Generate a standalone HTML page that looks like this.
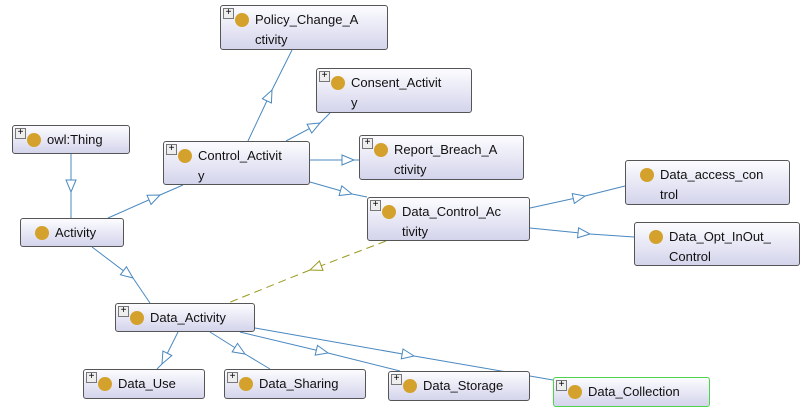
<!DOCTYPE html>
<html><head><meta charset="utf-8"><style>
body{margin:0;width:812px;height:418px;background:#fff;overflow:hidden;position:relative;font-family:"Liberation Sans",sans-serif}
.n{position:absolute;box-sizing:border-box;border:1px solid #555;border-radius:3px;background:linear-gradient(#fcfcff,#d4d4ec);font-size:13px;color:#111;line-height:20px}
.n .c{position:absolute;left:14px;top:7px;width:14px;height:14px;border-radius:50%;background:#d4a22c}
.n .p{position:absolute;left:2px;top:2px;width:9px;height:9px;border:1px solid #777;background:#eee;font-size:10px;line-height:8px;text-align:center;color:#000}
.n .t{position:absolute;left:34px;top:4px}
svg{position:absolute;left:0;top:0}
</style></head><body>
<svg width="812" height="418">
<defs>
<marker id="a" viewBox="0 0 14 12" refX="13" refY="6" markerWidth="14" markerHeight="12" markerUnits="userSpaceOnUse" orient="auto"><path d="M1,1 L13,6 L1,11 Z" fill="#fff" stroke="#4a88c0"/></marker>
<marker id="b" viewBox="0 0 14 12" refX="13" refY="6" markerWidth="14" markerHeight="12" markerUnits="userSpaceOnUse" orient="auto"><path d="M1,1 L13,6 L1,11 Z" fill="#fff" stroke="#9a9a20"/></marker>
</defs>
<g stroke="#4a88c0" stroke-width="1" fill="none">
<path d="M71,154 L71,192" marker-end="url(#a)"/><path d="M71,192 L71,218"/>
<path d="M108,218 L160,195" marker-end="url(#a)"/><path d="M160,195 L183,185"/>
<path d="M248,141 L272,90" marker-end="url(#a)"/><path d="M272,90 L292,50"/>
<path d="M286,141 L320,123" marker-end="url(#a)"/><path d="M320,123 L330,113"/>
<path d="M310,160 L354,160" marker-end="url(#a)"/><path d="M354,160 L359,160"/>
<path d="M310,182 L352,194" marker-end="url(#a)"/><path d="M352,194 L367,197"/>
<path d="M530,208 L585,196" marker-end="url(#a)"/><path d="M585,196 L625,186"/>
<path d="M530,228 L590,234" marker-end="url(#a)"/><path d="M590,234 L634,237"/>
<path d="M92,247 L133,278" marker-end="url(#a)"/><path d="M133,278 L150,303"/>
<path d="M178,332 L162,364" marker-end="url(#a)"/><path d="M162,364 L157,369"/>
<path d="M210,332 L245,354" marker-end="url(#a)"/><path d="M245,354 L270,369"/>
<path d="M240,332 L328,353" marker-end="url(#a)"/><path d="M328,353 L400,371"/>
<path d="M255,328 L414,356" marker-end="url(#a)"/><path d="M414,356 L553,380"/>
</g>
<g stroke="#9a9a20" fill="none" stroke-dasharray="8,5">
<path d="M386,241 L310,270" marker-end="url(#b)"/><path d="M310,270 L228,303"/>
</g>
</svg>
<div class="n" style="left:220px;top:5px;width:168px;height:45px"><span class="p">+</span><span class="c"></span><span class="t">Policy_Change_A<br>ctivity</span></div>
<div class="n" style="left:316px;top:68px;width:156px;height:45px"><span class="p">+</span><span class="c"></span><span class="t">Consent_Activit<br>y</span></div>
<div class="n" style="left:12px;top:125px;width:118px;height:29px"><span class="p">+</span><span class="c"></span><span class="t">owl:Thing</span></div>
<div class="n" style="left:163px;top:141px;width:147px;height:44px"><span class="p">+</span><span class="c"></span><span class="t">Control_Activit<br>y</span></div>
<div class="n" style="left:359px;top:135px;width:165px;height:45px"><span class="p">+</span><span class="c"></span><span class="t">Report_Breach_A<br>ctivity</span></div>
<div class="n" style="left:625px;top:160px;width:165px;height:45px"><span class="c"></span><span class="t">Data_access_con<br>trol</span></div>
<div class="n" style="left:367px;top:197px;width:163px;height:44px"><span class="p">+</span><span class="c"></span><span class="t">Data_Control_Ac<br>tivity</span></div>
<div class="n" style="left:20px;top:218px;width:104px;height:29px"><span class="c"></span><span class="t">Activity</span></div>
<div class="n" style="left:634px;top:222px;width:166px;height:44px"><span class="c"></span><span class="t">Data_Opt_InOut_<br>Control</span></div>
<div class="n" style="left:115px;top:303px;width:140px;height:29px"><span class="p">+</span><span class="c"></span><span class="t">Data_Activity</span></div>
<div class="n" style="left:83px;top:369px;width:122px;height:30px"><span class="p">+</span><span class="c"></span><span class="t">Data_Use</span></div>
<div class="n" style="left:224px;top:369px;width:142px;height:30px"><span class="p">+</span><span class="c"></span><span class="t">Data_Sharing</span></div>
<div class="n" style="left:388px;top:371px;width:142px;height:30px"><span class="p">+</span><span class="c"></span><span class="t">Data_Storage</span></div>
<div class="n" style="left:553px;top:377px;width:157px;height:30px;border-color:#4cd44c"><span class="p">+</span><span class="c"></span><span class="t">Data_Collection</span></div>
</body></html>
